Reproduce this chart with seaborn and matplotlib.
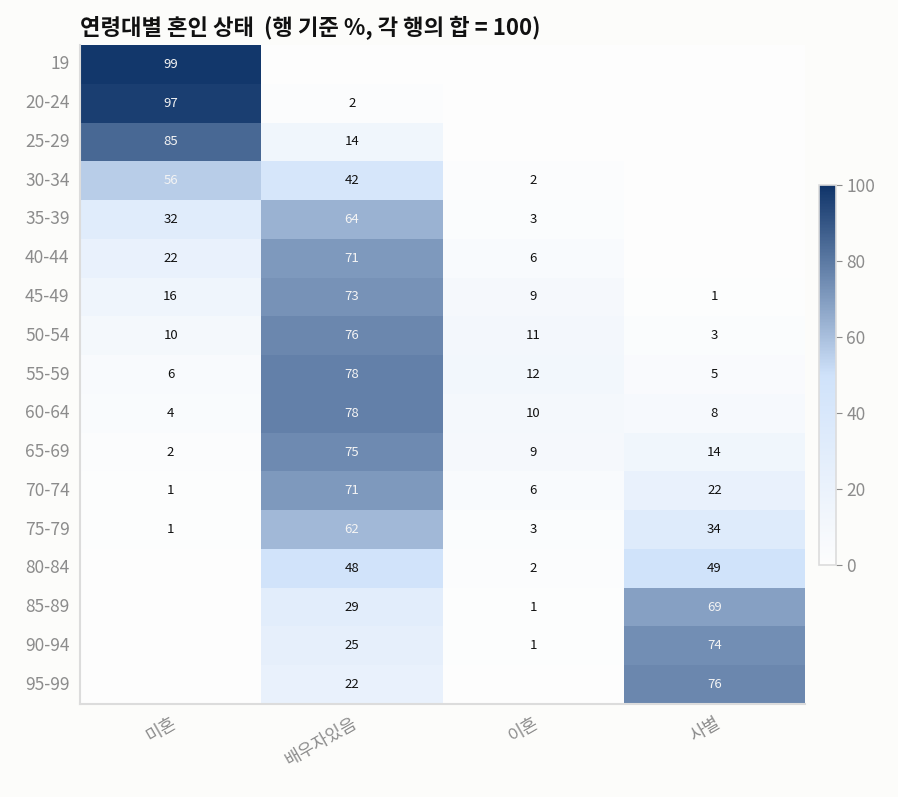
import numpy as np
import pandas as pd
import matplotlib
matplotlib.use('Agg')
import matplotlib.pyplot as plt
from matplotlib.colors import LinearSegmentedColormap
import seaborn as sns

sns.set_style('white')
plt.rcParams['font.family'] = ['Noto Sans CJK KR', 'DejaVu Sans']

# Data (row-wise %, each row sums to ~100)
age_groups = ['19', '20-24', '25-29', '30-34', '35-39', '40-44', '45-49', '50-54',
              '55-59', '60-64', '65-69', '70-74', '75-79', '80-84', '85-89', '90-94', '95-99']
statuses = ['미혼', '배우자있음', '이혼', '사별']

never_married = [99, 97, 85, 56, 32, 22, 16, 10, 6, 4, 2, 1, 1, 0.4, 0.3, 0.2, 0.2]
married = [0.4, 2, 14, 42, 64, 71, 73, 76, 78, 78, 75, 71, 62, 48, 29, 25, 22]
divorced = [0.0, 0.1, 0.4, 2, 3, 6, 9, 11, 12, 10, 9, 6, 3, 2, 1, 1, 0.4]
widowed = [0.0, 0.0, 0.0, 0.1, 0.2, 0.4, 1, 3, 5, 8, 14, 22, 34, 49, 69, 74, 76]

df = pd.DataFrame({'미혼': never_married, '배우자있음': married,
                   '이혼': divorced, '사별': widowed}, index=age_groups)[statuses]

labels = df.map(lambda v: f'{v:.0f}' if v >= 0.5 else '')

bg = '#fcfcfa'
grey = '#8c8c8c'
cmap = LinearSegmentedColormap.from_list(
    'soft_blues', [(0.0, '#fdfdfd'), (0.5, '#cfe2fa'), (1.0, '#0f3469')])

W, H = 898, 797
fig = plt.figure(figsize=(W / 100, H / 100), dpi=100)
fig.patch.set_facecolor(bg)
ax = fig.add_axes([80 / W, (H - 704) / H, (805 - 80) / W, (704 - 45) / H])
cax = fig.add_axes([819 / W, (H - 565) / H, 17 / W, (565 - 185) / H])
ax.set_facecolor(bg)

sns.heatmap(df, ax=ax, cbar_ax=cax, cmap=cmap, vmin=0, vmax=100,
            annot=labels, fmt='', annot_kws={'fontsize': 9.5},
            cbar_kws={'ticks': [0, 20, 40, 60, 80, 100]})

# white text on dark cells, black on light cells
for txt, v in zip(ax.texts, df.values.flat):
    txt.set_color('#f4f4f4' if v > 50 else '#111111')

ax.set_xlabel('')
ax.set_ylabel('')
ax.set_title('연령대별 혼인 상태  (행 기준 %, 각 행의 합 = 100)', loc='left',
             fontsize=16, fontweight='bold', color='#111111', pad=7)

ax.tick_params(axis='both', colors=grey, labelsize=12.5, length=4, width=1)
ax.tick_params(axis='y', labelrotation=0)
plt.setp(ax.get_xticklabels(), rotation=30, ha='right', rotation_mode='anchor')

for side in ['top', 'right']:
    ax.spines[side].set_visible(False)
for side in ['left', 'bottom']:
    ax.spines[side].set_visible(True)
    ax.spines[side].set_color('#dcdcdc')
    ax.spines[side].set_linewidth(1.5)

cbar = ax.collections[0].colorbar
cbar.ax.tick_params(colors=grey, labelsize=12.5, length=4)
cbar.outline.set_edgecolor('#dcdcdc')
cbar.outline.set_linewidth(1.2)

fig.savefig('out.png', dpi=100, facecolor=bg)
